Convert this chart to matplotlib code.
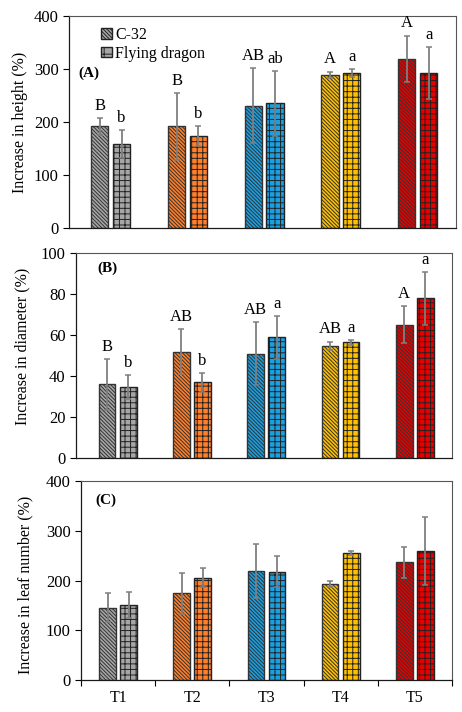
import numpy as np
import matplotlib
matplotlib.use("Agg")
import matplotlib.pyplot as plt
from matplotlib.patches import Patch

# ── Data ─────────────────────────────────────────────────────────────────────
treatments = ["T1", "T2", "T3", "T4", "T5"]
colors = ["#A6A6A6", "#FF7F2A", "#1A9FE0", "#FFC000", "#E60000"]

height_c32 = [192, 192, 231, 289, 319]
height_c32_err = [16, 63, 71, 6, 44]
height_fd = [158, 174, 235, 292, 292]
height_fd_err = [26, 19, 61, 7, 49]
height_c32_let = ["B", "B", "AB", "A", "A"]
height_fd_let = ["b", "b", "ab", "a", "a"]

diam_c32 = [35.9, 51.9, 50.9, 54.8, 65.0]
diam_c32_err = [12.4, 11.0, 15.4, 2.0, 9.0]
diam_fd = [34.5, 36.9, 58.9, 56.4, 77.9]
diam_fd_err = [5.8, 4.6, 10.4, 1.3, 12.8]
diam_c32_let = ["B", "AB", "AB", "AB", "A"]
diam_fd_let = ["b", "b", "a", "a", "a"]

leaf_c32 = [145, 174, 219, 193, 237]
leaf_c32_err = [29, 42, 55, 7, 31]
leaf_fd = [151, 206, 218, 256, 259]
leaf_fd_err = [26, 20, 32, 4, 68]

# ── Style ────────────────────────────────────────────────────────────────────
plt.rcParams.update({
    "font.family": ["Liberation Serif", "DejaVu Serif"],
    "font.size": 11,
    "hatch.linewidth": 0.7,
    "hatch.color": "#1a1a1a",
})

HATCH_C32 = "\\" * 9
HATCH_FD = "+++"
W = 0.225
OFF = 0.142

fig = plt.figure(figsize=(4.62, 7.12), dpi=100)

panels = [
    # position, xlim-left, data, ylim, ticks, label, letters, tag, tag pos, ylabel pos
    ([0.1494, 0.6798, 0.8377, 0.2978], -0.543,
     (height_c32, height_c32_err, height_fd, height_fd_err),
     400, 100, "Increase in height (%)",
     (height_c32_let, height_fd_let), "(A)", (0.023, 0.73), (-0.106, 0.5)),
    ([0.1645, 0.3567, 0.8139, 0.2879], -0.56,
     (diam_c32, diam_c32_err, diam_fd, diam_fd_err),
     100, 20, "Increase in diameter (%)",
     (diam_c32_let, diam_fd_let), "(B)", (0.056, 0.927), (-0.12, 0.546)),
    ([0.1753, 0.0449, 0.8030, 0.2795], -0.5,
     (leaf_c32, leaf_c32_err, leaf_fd, leaf_fd_err),
     400, 100, "Increase in leaf number (%)",
     None, "(C)", (0.038, 0.905), (-0.129, 0.477)),
]

x = np.arange(len(treatments))
err_kw = dict(ecolor="#7F7F7F", elinewidth=1.3, capsize=2.5, capthick=1.1)

for i, (pos, xl, vals, ymax, ystep, ylab, letters, tag, tagpos, ylpos) in enumerate(panels):
    ax = fig.add_axes(pos)
    c32, c32e, fd, fde = vals
    ax.bar(x - OFF, c32, W, yerr=c32e, color=colors, edgecolor="#333333",
           linewidth=1.0, hatch=HATCH_C32, error_kw=err_kw, zorder=2)
    ax.bar(x + OFF, fd, W, yerr=fde, color=colors, edgecolor="#222222",
           linewidth=1.0, hatch=HATCH_FD, error_kw=err_kw, zorder=2)

    if letters is not None:
        for j in range(len(treatments)):
            ax.annotate(letters[0][j], (x[j] - OFF, c32[j] + c32e[j]),
                        xytext=(0, 3), textcoords="offset points",
                        ha="center", va="bottom", fontsize=12)
            ax.annotate(letters[1][j], (x[j] + OFF, fd[j] + fde[j]),
                        xytext=(0, 3), textcoords="offset points",
                        ha="center", va="bottom", fontsize=12)

    ax.set_xlim(xl, 4.5)
    ax.set_ylim(0, ymax)
    ax.set_yticks(np.arange(0, ymax + 1, ystep))
    ax.tick_params(axis="y", direction="out", length=4, width=0.8, labelsize=12)
    ax.set_ylabel(ylab, fontsize=11.5)
    ax.yaxis.set_label_coords(*ylpos)

    if i == 2:
        ax.set_xticks(x)
        ax.set_xticklabels(treatments, fontsize=11.5)
        ax.set_xticks(np.arange(-0.5, 4.6, 1), minor=True)
        ax.tick_params(axis="x", which="major", length=0, pad=7)
        ax.tick_params(axis="x", which="minor", direction="out", length=4, width=0.8)
    else:
        ax.set_xticks([])

    for s in ["left", "bottom"]:
        ax.spines[s].set_color("#1a1a1a")
        ax.spines[s].set_linewidth(0.9)
    for s in ["top", "right"]:
        ax.spines[s].set_color("#555555")
        ax.spines[s].set_linewidth(0.8)

    ax.text(tagpos[0], tagpos[1], tag, transform=ax.transAxes, fontsize=11,
            fontweight="bold", ha="left", va="center")

    if i == 0:
        handles = [Patch(facecolor="#A6A6A6", edgecolor="#222222", hatch=HATCH_C32,
                         label="C-32"),
                   Patch(facecolor="#A6A6A6", edgecolor="#222222", hatch="++",
                         label="Flying dragon")]
        ax.legend(handles=handles, loc="upper left", bbox_to_anchor=(0.055, 1.0),
                  frameon=False, fontsize=11.5, handlelength=0.65, handleheight=0.65,
                  handletextpad=0.2, labelspacing=0.15, borderaxespad=0.3)

fig.savefig("out.png", dpi=100)
